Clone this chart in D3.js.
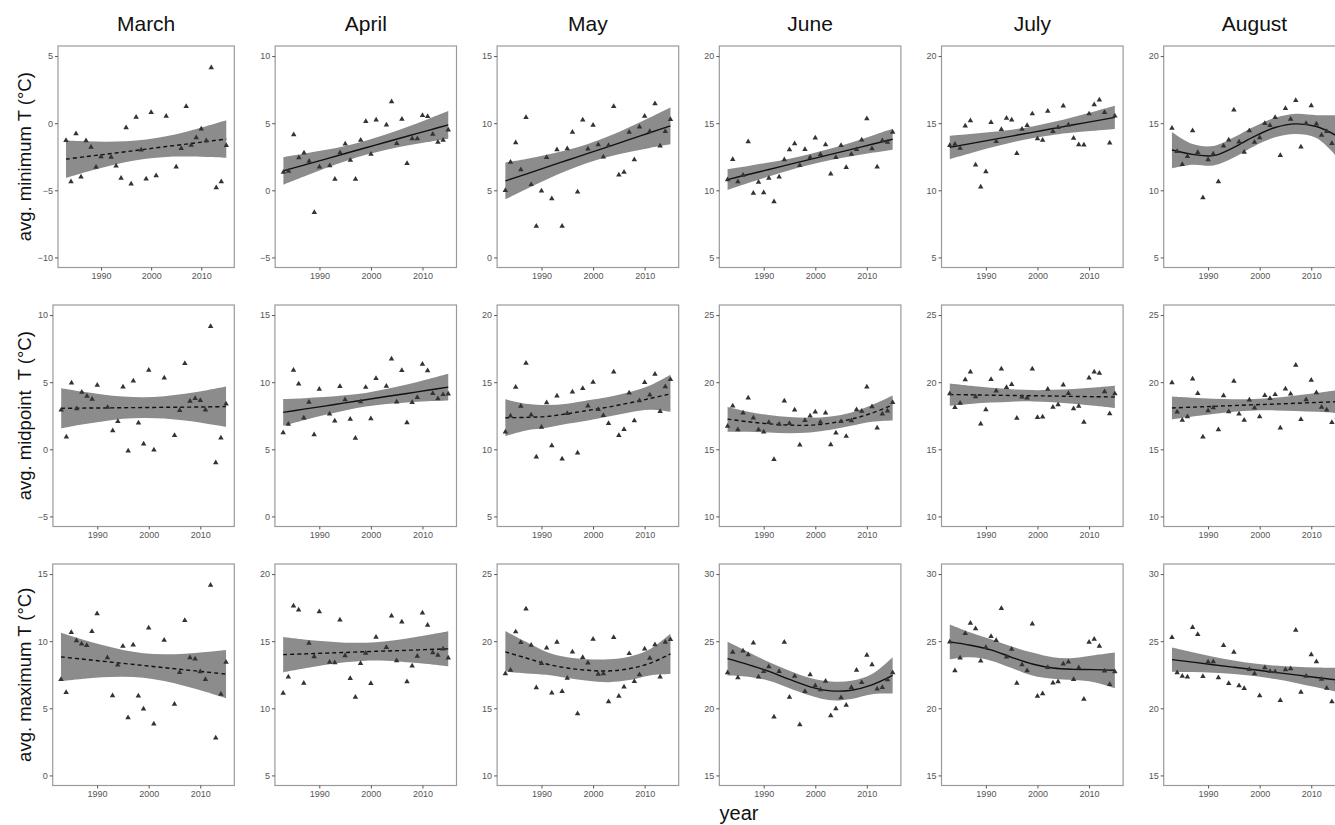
<!DOCTYPE html>
<html>
<head>
<meta charset="utf-8">
<script src="https://cdn.jsdelivr.net/npm/d3@7"></script>
<style>
  body { margin: 0; background: #fff; }
  svg { display: block; font-family: 'Liberation Sans', Arial, sans-serif; }
</style>
</head>
<body>
<svg id="chart"></svg>
<script>
'use strict'

const years = [1983, 1984, 1985, 1986, 1987, 1988, 1989, 1990, 1991, 1992, 1993,
  1994, 1995, 1996, 1997, 1998, 1999, 2000, 2001, 2002, 2003, 2004, 2005, 2006,
  2007, 2008, 2009, 2010, 2011, 2012, 2013, 2014, 2015]
const fitYears = [1983, 1987, 1991, 1995, 1999, 2003, 2007, 2011, 2015]
const months = ['March', 'April', 'May', 'June', 'July', 'August']
const xTicks = [1990, 2000, 2010]

// lowest tick of each panel, rows: min / midpoint / max
const lowMin = [-10, -5, 0, 5, 5, 5]
const lowMid = [-5, 0, 5, 10, 10, 10]
const lowMax = [0, 5, 10, 15, 15, 15]

const solidMin = [false, true, true, true, true, true]
const solidMid = [false, true, false, false, false, false]
const solidMax = [false, false, false, true, true, true]

const minT = [
  [-1.28, -4.35, -0.78, -4.0, -1.3, -1.78, -3.28, -2.5, null, -2.53, -3.18, -4.1, -0.33, -4.53, 0.45, -2.0, -4.15, 0.8, -3.9, null, 0.53, null, -3.25, -1.88, 1.25, -1.63, -1.08, -0.43, -1.3, 4.13, -4.8, -4.35, -1.65],
  [1.35, 1.43, 4.15, 2.43, 2.78, 2.18, -1.65, 1.75, null, 1.83, 0.83, 2.8, 3.45, 2.25, 0.83, 3.73, 5.13, 2.7, 5.25, null, 4.88, 6.6, 3.5, 5.3, 2.0, 3.85, 3.85, 5.58, 5.5, 4.18, 3.58, 3.73, 4.5],
  [5.0, 7.1, 8.55, 6.53, 10.43, 5.43, 2.33, 4.95, 7.45, 4.38, 8.03, 2.33, 8.1, 9.33, 4.88, 10.25, 8.08, 9.85, 8.4, 7.48, 8.35, 11.25, 6.15, 6.35, 9.33, 7.28, 9.73, 10.53, 9.38, 11.45, 8.3, 9.38, 10.28],
  [10.8, 12.3, 10.65, 11.13, 13.63, 9.78, 10.6, 9.83, 10.9, 9.15, 11.0, 12.28, 13.03, 13.48, 11.85, 13.05, 12.45, 13.9, 12.68, 13.4, 11.23, 12.45, 13.35, 11.7, 12.7, 13.05, 13.75, 15.33, 13.1, 11.75, 13.7, 13.58, 14.33],
  [13.35, 13.43, 13.13, 14.8, 15.18, 11.9, 10.25, 11.38, 15.05, 13.65, 14.53, 15.38, 15.25, 12.75, 14.55, 14.83, 15.7, 13.85, 13.73, 15.9, 14.38, 14.68, 16.28, 14.88, 13.88, 13.4, 13.38, 15.7, 16.38, 16.73, 15.8, 13.53, 15.55],
  [14.63, 12.9, 11.93, 12.53, 14.45, 12.83, 9.45, 12.28, 12.72, 10.65, 13.3, 13.75, 15.98, 13.6, 12.85, 14.45, 13.58, 13.93, 14.98, 14.83, 15.43, 12.6, 16.1, 15.3, 16.7, 13.23, 14.98, 16.3, 14.95, 14.1, 14.38, 13.5, 12.8]
]

const midT = [
  [2.94, 0.92, 4.94, 3.02, 4.25, 3.95, 3.73, 4.78, null, 3.13, 1.39, 2.07, 4.65, -0.12, 5.09, 1.97, 0.4, 5.89, -0.04, null, 5.31, null, 1.03, 2.9, 6.4, 3.58, 3.8, 3.65, 2.93, 9.16, -1.0, 0.85, 3.39],
  [6.24, 6.88, 10.89, 9.88, 7.33, 8.52, 6.1, 9.48, null, 7.63, 7.12, 9.69, 8.69, 7.24, 5.83, 8.54, 9.62, 7.28, 10.28, null, 9.71, 11.74, 8.53, 10.87, 6.99, 8.5, 8.87, 11.34, 10.85, 9.17, 8.77, 9.08, 9.13],
  [11.29, 12.48, 14.63, 13.22, 16.42, 12.57, 9.43, 11.65, 13.48, 10.27, 13.98, 9.29, 12.68, 14.27, 9.74, 14.53, 13.23, 15.0, 12.98, 12.53, 11.93, 15.77, 11.03, 11.48, 14.21, 12.14, 13.62, 14.98, 14.06, 15.6, 12.82, 14.66, 15.21],
  [16.73, 18.24, 16.47, 17.71, 18.82, 17.33, 16.47, 16.29, 17.0, 14.25, 16.88, 18.61, 16.93, 17.94, 15.32, 17.15, 17.48, 17.79, 17.03, 17.72, 15.34, 16.22, 17.08, 15.97, 17.13, 17.95, 17.84, 19.64, 18.18, 16.6, 17.63, 17.86, 18.49],
  [19.15, 18.12, 18.44, 20.19, 20.77, 18.92, 16.89, 17.96, 20.2, 19.35, 20.99, 19.61, 19.83, 17.32, 18.9, 18.82, 20.99, 17.38, 17.42, 19.48, 18.14, 18.33, 19.79, 19.17, 18.02, 18.22, 17.03, 20.32, 20.77, 20.68, 19.29, 17.66, 19.14],
  [19.96, 17.78, 17.17, 17.43, 20.24, 19.17, 15.92, 17.87, 18.1, 16.47, 18.99, 17.8, 20.08, 17.64, 17.17, 18.68, 18.08, 17.44, 19.01, 18.79, 19.08, 16.59, 19.49, 19.13, 21.27, 17.22, 18.69, 20.15, 19.22, 18.14, 17.94, 17.0, 17.4]
]

const maxT = [
  [7.15, 6.18, 10.65, 10.03, 9.8, 9.68, 10.73, 12.05, null, 8.78, 5.95, 8.23, 9.63, 4.3, 9.73, 5.93, 4.95, 10.98, 3.83, null, 10.08, null, 5.3, 7.68, 11.55, 8.78, 8.68, 7.73, 7.15, 14.18, 2.8, 6.05, 8.43],
  [11.13, 12.33, 17.63, 17.33, 11.88, 14.85, 13.85, 17.2, null, 13.43, 13.4, 16.58, 13.93, 12.23, 10.83, 13.35, 14.1, 11.85, 15.3, null, 14.53, 16.88, 13.55, 16.43, 11.98, 13.15, 13.88, 17.1, 16.2, 14.15, 13.95, 14.43, 13.75],
  [17.58, 17.85, 20.7, 19.9, 22.4, 19.7, 16.53, 18.35, 19.5, 16.15, 19.93, 16.25, 17.25, 19.2, 14.6, 18.8, 18.38, 20.15, 17.55, 17.58, 15.5, 20.28, 15.9, 16.6, 19.08, 17.0, 17.5, 19.43, 18.73, 19.75, 17.33, 19.93, 20.13],
  [22.65, 24.18, 22.28, 24.28, 24.0, 24.88, 22.33, 22.75, 23.1, 19.35, 22.75, 24.93, 20.83, 22.4, 18.78, 21.25, 22.5, 21.68, 21.38, 22.03, 19.45, 19.98, 20.8, 20.23, 21.55, 22.85, 21.93, 23.95, 23.25, 21.45, 21.55, 22.13, 22.65],
  [24.95, 22.8, 23.75, 25.58, 26.35, 25.93, 23.53, 24.53, 25.35, 25.05, 27.45, 23.83, 24.4, 21.88, 23.25, 22.8, 26.28, 20.9, 21.1, 23.05, 21.9, 21.98, 23.3, 23.45, 22.15, 23.03, 20.68, 24.93, 25.15, 24.63, 22.78, 21.78, 22.73],
  [25.28, 22.65, 22.4, 22.33, 26.03, 25.5, 22.38, 23.45, 23.48, 22.28, 24.68, 21.85, 24.18, 21.68, 21.48, 22.9, 22.58, 20.95, 23.03, 22.75, 22.73, 20.58, 22.88, 22.95, 25.83, 21.2, 22.4, 24.0, 23.48, 22.18, 21.5, 20.5, 22.0]
]

// smoothed fit and its confidence band, read at fitYears
const fitMin = [
  [-2.68, -2.49, -2.31, -2.12, -1.93, -1.74, -1.56, -1.37, -1.18],
  [1.45, 1.88, 2.31, 2.74, 3.17, 3.6, 4.03, 4.45, 4.88],
  [5.7, 6.21, 6.73, 7.24, 7.75, 8.26, 8.78, 9.29, 9.8],
  [10.8, 11.18, 11.55, 11.93, 12.3, 12.68, 13.05, 13.43, 13.8],
  [13.2, 13.48, 13.76, 14.04, 14.32, 14.6, 14.88, 15.15, 15.43],
  [13.0, 12.68, 12.58, 13.2, 14.02, 14.68, 14.95, 14.75, 14.05]
]
const loMin = [
  [-4.07, -3.63, -3.24, -2.89, -2.64, -2.51, -2.49, -2.51, -2.57],
  [0.42, 1.03, 1.62, 2.17, 2.64, 3.03, 3.34, 3.6, 3.85],
  [4.33, 5.08, 5.81, 6.48, 7.05, 7.5, 7.86, 8.16, 8.43],
  [10.02, 10.54, 11.03, 11.5, 11.9, 12.25, 12.53, 12.79, 13.02],
  [12.33, 12.76, 13.18, 13.56, 13.88, 14.12, 14.3, 14.43, 14.56],
  [11.63, 11.9, 11.85, 12.45, 13.3, 13.95, 14.2, 13.9, 12.5]
]
const hiMin = [
  [-1.29, -1.35, -1.38, -1.35, -1.22, -0.97, -0.63, -0.23, 0.21],
  [2.48, 2.73, 3.0, 3.31, 3.7, 4.17, 4.72, 5.3, 5.91],
  [7.07, 7.34, 7.65, 8.0, 8.45, 9.02, 9.7, 10.42, 11.17],
  [11.58, 11.82, 12.07, 12.36, 12.7, 13.11, 13.57, 14.07, 14.58],
  [14.07, 14.2, 14.34, 14.52, 14.76, 15.08, 15.46, 15.87, 16.3],
  [14.35, 13.45, 13.3, 13.95, 14.75, 15.4, 15.7, 15.6, 15.6]
]

const fitMid = [
  [3.05, 3.07, 3.08, 3.1, 3.11, 3.13, 3.14, 3.16, 3.18],
  [7.75, 7.99, 8.22, 8.46, 8.69, 8.93, 9.16, 9.4, 9.63],
  [12.35, 12.38, 12.45, 12.65, 12.9, 13.15, 13.45, 13.78, 14.13],
  [17.25, 17.05, 16.9, 16.8, 16.8, 16.95, 17.25, 17.7, 18.3],
  [19.08, 19.06, 19.03, 19.01, 18.99, 18.97, 18.94, 18.92, 18.9],
  [18.08, 18.14, 18.2, 18.26, 18.32, 18.37, 18.43, 18.49, 18.55]
]
const loMid = [
  [1.55, 1.84, 2.08, 2.27, 2.34, 2.3, 2.14, 1.93, 1.68],
  [6.75, 7.17, 7.55, 7.9, 8.18, 8.37, 8.49, 8.58, 8.63],
  [10.98, 11.4, 11.6, 11.9, 12.15, 12.45, 12.75, 12.95, 12.8],
  [16.3, 16.3, 16.25, 16.2, 16.25, 16.45, 16.75, 17.05, 17.15],
  [18.25, 18.38, 18.48, 18.55, 18.57, 18.51, 18.39, 18.24, 18.07],
  [17.23, 17.44, 17.63, 17.79, 17.89, 17.9, 17.86, 17.79, 17.7]
]
const hiMid = [
  [4.55, 4.3, 4.08, 3.93, 3.88, 3.96, 4.14, 4.39, 4.68],
  [8.75, 8.81, 8.89, 9.02, 9.2, 9.49, 9.83, 10.22, 10.63],
  [13.73, 13.4, 13.3, 13.4, 13.65, 13.9, 14.25, 14.75, 15.55],
  [18.15, 17.8, 17.55, 17.4, 17.35, 17.45, 17.75, 18.3, 19.0],
  [19.91, 19.74, 19.58, 19.47, 19.41, 19.43, 19.49, 19.6, 19.73],
  [18.93, 18.84, 18.77, 18.73, 18.75, 18.84, 19.0, 19.19, 19.4]
]

const fitMax = [
  [8.83, 8.67, 8.51, 8.35, 8.19, 8.03, 7.87, 7.71, 7.55],
  [14.0, 14.05, 14.11, 14.16, 14.22, 14.27, 14.32, 14.38, 14.43],
  [19.2, 18.75, 18.3, 18.0, 17.83, 17.78, 17.95, 18.35, 19.05],
  [23.7, 23.25, 22.75, 22.15, 21.6, 21.3, 21.35, 21.75, 22.45],
  [24.95, 24.7, 24.35, 23.8, 23.3, 23.0, 22.9, 22.88, 22.83],
  [23.63, 23.44, 23.25, 23.06, 22.87, 22.68, 22.49, 22.3, 22.11]
]
const loMax = [
  [7.03, 7.19, 7.31, 7.35, 7.27, 7.03, 6.67, 6.23, 5.75],
  [12.69, 12.97, 13.23, 13.43, 13.55, 13.54, 13.44, 13.3, 13.12],
  [17.75, 17.6, 17.5, 17.25, 17.05, 16.95, 17.1, 17.45, 17.55],
  [22.45, 22.35, 22.05, 21.5, 20.95, 20.6, 20.7, 21.05, 21.1],
  [23.65, 23.8, 23.55, 23.0, 22.45, 22.2, 22.1, 21.95, 21.5],
  [22.73, 22.7, 22.65, 22.56, 22.41, 22.18, 21.89, 21.56, 21.21]
]
const hiMax = [
  [10.63, 10.15, 9.71, 9.35, 9.11, 9.03, 9.07, 9.19, 9.35],
  [15.31, 15.13, 14.99, 14.89, 14.89, 15.0, 15.2, 15.46, 15.74],
  [20.75, 19.95, 19.2, 18.8, 18.65, 18.65, 18.85, 19.4, 20.55],
  [24.95, 24.2, 23.45, 22.8, 22.25, 22.0, 22.05, 22.55, 23.8],
  [26.25, 25.65, 25.15, 24.6, 24.15, 23.8, 23.75, 23.95, 24.15],
  [24.53, 24.18, 23.85, 23.56, 23.33, 23.18, 23.09, 23.04, 23.01]
]

const rows = [
  { label: 'avg. minimum T (°C)', obs: minT, fit: fitMin, lo: loMin, hi: hiMin, solid: solidMin, low: lowMin },
  { label: 'avg. midpoint  T (°C)', obs: midT, fit: fitMid, lo: loMid, hi: hiMid, solid: solidMid, low: lowMid },
  { label: 'avg. maximum T (°C)', obs: maxT, fit: fitMax, lo: loMax, hi: hiMax, solid: solidMax, low: lowMax }
]

const width = 1335,
  height = 825

const cellW = 222.2,
  cellX0 = 12.1
const rowTop = [46, 305, 564]
const panelH = 221.5
const tickFont = 9

const svg = d3.select('#chart')
  .attr('width', width)
  .attr('height', height)

svg.append('rect')
  .attr('width', width)
  .attr('height', height)
  .attr('fill', '#fff')

const fmt = d3.format('d')

// measure label widths so panel left edges follow the widest tick label
const probe = svg.append('text').attr('font-size', tickFont)
function textWidth(s) {
  probe.text(s)
  return probe.node().getComputedTextLength()
}

const titleX = []

rows.forEach((row, r) => {
  const top = rowTop[r],
    bottom = top + panelH

  months.forEach((month, c) => {
    const low = row.low[c]
    const yTicks = [low, low + 5, low + 10, low + 15]
    const labW = d3.max(yTicks, t => textWidth(fmt(t)))
    const right = cellX0 + cellW * (c + 1)
    const left = cellX0 + cellW * c + 30.6 + labW
    if (r === 0) titleX.push((left + right) / 2)

    const xScale = d3.scaleLinear().domain([1981.4, 2016.6]).range([left, right])
    const yScale = d3.scaleLinear().domain([low - 0.75, low + 15.75]).range([bottom, top])

    const g = svg.append('g').attr('class', 'panel')

    const band = fitYears.map((yr, i) => ({ yr: yr, lo: row.lo[c][i], hi: row.hi[c][i], fit: row.fit[c][i] }))

    g.append('path')
      .datum(band)
      .attr('fill', '#8c8c8c')
      .attr('d', d3.area()
        .curve(d3.curveCatmullRom)
        .x(d => xScale(d.yr))
        .y0(d => yScale(d.lo))
        .y1(d => yScale(d.hi)))

    g.append('path')
      .datum(band)
      .attr('fill', 'none')
      .attr('stroke', '#111')
      .attr('stroke-width', 1.4)
      .attr('stroke-dasharray', row.solid[c] ? null : '4,3')
      .attr('d', d3.line()
        .curve(d3.curveCatmullRom)
        .x(d => xScale(d.yr))
        .y(d => yScale(d.fit)))

    const pts = years
      .map((yr, i) => ({ yr: yr, v: row.obs[c][i] }))
      .filter(d => d.v !== null)

    g.selectAll('path.pt')
      .data(pts)
      .enter()
      .append('path')
      .attr('class', 'pt')
      .attr('fill', '#333')
      .attr('d', d3.symbol(d3.symbolTriangle, 13))
      .attr('transform', d => 'translate(' + xScale(d.yr) + ',' + yScale(d.v) + ')')

    g.append('rect')
      .attr('x', left)
      .attr('y', top)
      .attr('width', right - left)
      .attr('height', bottom - top)
      .attr('fill', 'none')
      .attr('stroke', '#9a9a9a')
      .attr('stroke-width', 1.2)

    const yAxis = g.append('g')
      .attr('transform', 'translate(' + left + ',0)')
      .call(d3.axisLeft(yScale).tickValues(yTicks).tickFormat(fmt).tickSize(3).tickPadding(2))

    const xAxis = g.append('g')
      .attr('transform', 'translate(0,' + bottom + ')')
      .call(d3.axisBottom(xScale).tickValues(xTicks).tickFormat(fmt).tickSize(3).tickPadding(2))

    ;[yAxis, xAxis].forEach(a => {
      a.select('.domain').remove()
      a.selectAll('line').attr('stroke', '#555')
      a.selectAll('text')
        .attr('fill', '#555')
        .attr('font-size', tickFont)
        .attr('font-family', "'Liberation Sans', Arial, sans-serif")
    })
  })

  svg.append('text')
    .attr('transform', 'translate(25,' + (top + panelH / 2) + ') rotate(-90)')
    .attr('text-anchor', 'middle')
    .attr('dy', '0.35em')
    .attr('font-size', 18.5)
    .attr('fill', '#111')
    .style('white-space', 'pre')
    .text(row.label)
})

probe.remove()

months.forEach((m, c) => {
  svg.append('text')
    .attr('x', titleX[c])
    .attr('y', 31)
    .attr('text-anchor', 'middle')
    .attr('font-size', 21)
    .attr('fill', '#111')
    .text(m)
})

svg.append('text')
  .attr('x', 739)
  .attr('y', 820)
  .attr('text-anchor', 'middle')
  .attr('font-size', 20)
  .attr('fill', '#111')
  .text('year')
</script>
</body>
</html>
